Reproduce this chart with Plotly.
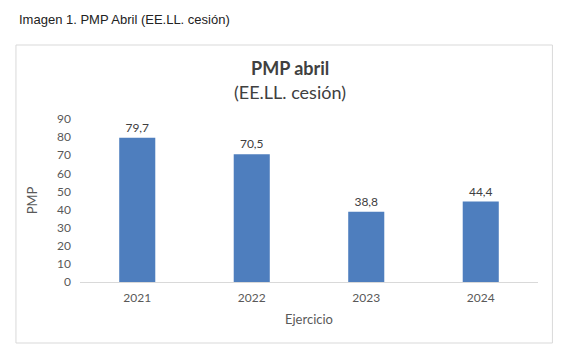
import plotly.graph_objects as go

categories = ["2021", "2022", "2023", "2024"]
pmp_values = [79.7, 70.5, 38.8, 44.4]
y_ticks = [0, 10, 20, 30, 40, 50, 60, 70, 80, 90]

OFF = 8  # default page body margin
W, H = 570 - OFF, 358 - OFF
L, R, T, B = 80 - OFF, 537.6 - OFF, 119 - OFF, 282 - OFF  # plot area in figure px

def px(x):
    return (x - OFF - L) / (R - L)

def py(y):
    return (B - (y - OFF)) / (B - T)

fig = go.Figure()
fig.add_trace(go.Bar(
    x=categories, y=pmp_values,
    marker=dict(color="#4E7EBE", line=dict(width=0)),
    texttemplate="%{y:.1f}", textposition="outside",
    textfont=dict(family="Lato", size=12, color="#404040"),
    cliponaxis=False,
))

font_main = "Lato"
fig.update_layout(
    width=W, height=H,
    margin=dict(l=L, r=W - R, t=T, b=H - B, pad=0),
    paper_bgcolor="white", plot_bgcolor="white",
    separators=", ",
    showlegend=False,
    bargap=0.685,
    xaxis=dict(
        type="category", showgrid=False, showline=True, linecolor="#D9D9D9", linewidth=1,
        ticks="", tickfont=dict(family=font_main, size=12, color="#595959"), ticklabelstandoff=5,
        title=dict(text="Ejercicio", font=dict(family=font_main, size=13, color="#595959"), standoff=10),
    ),
    yaxis=dict(
        range=[0, 90], tickvals=y_ticks, showgrid=False, zeroline=False, showline=False,
        ticks="", tickfont=dict(family=font_main, size=12, color="#595959"), ticklabelstandoff=8,
        title=dict(text="PMP", font=dict(family=font_main, size=13, color="#595959"), standoff=16),
    ),
    shapes=[dict(type="rect", xref="paper", yref="paper",
                 x0=px(16), x1=px(552), y0=py(343), y1=py(45),
                 line=dict(color="#D9D9D9", width=1), fillcolor="rgba(0,0,0,0)", layer="below")],
    annotations=[
        dict(text="Imagen 1. PMP Abril (EE.LL. cesión)", xref="paper", yref="paper",
             x=px(17), y=py(20), xanchor="left", yanchor="middle", showarrow=False,
             font=dict(family="Liberation Sans", size=13, color="#222222")),
        dict(text="<b>PMP abril</b>", xref="paper", yref="paper",
             x=px(290), y=py(68), xanchor="center", yanchor="middle", showarrow=False,
             font=dict(family=font_main, size=18, color="#404040")),
        dict(text="(EE.LL. cesión)", xref="paper", yref="paper",
             x=px(290), y=py(92), xanchor="center", yanchor="middle", showarrow=False,
             font=dict(family=font_main, size=18, color="#404040")),
    ],
)

fig.write_html("out.html")
